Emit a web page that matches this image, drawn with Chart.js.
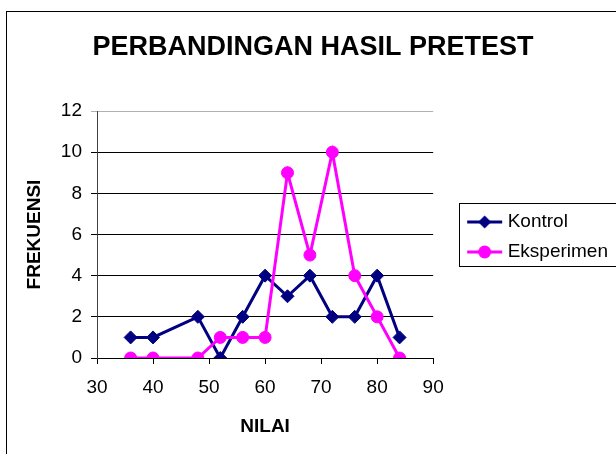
<!DOCTYPE html>
<html>
<head>
<meta charset="utf-8">
<script src="https://cdn.jsdelivr.net/npm/chart.js@4/dist/chart.umd.min.js"></script>
<style>
    body { margin: 0; background: #ffffff; }
    #chart { display: block; }
</style>
</head>
<body>
<canvas id="chart" width="616" height="454"></canvas>
<script>
let chart;

// data
const nilai = [36, 40, 48, 52, 56, 60, 64, 68, 72, 76, 80, 84];
const kontrol = [1, 1, 2, 0, 2, 4, 3, 4, 2, 2, 4, 1];
const eksperimen = [0, 0, 0, 1, 1, 1, 9, 5, 10, 4, 2, 0];
const xTicks = [30, 40, 50, 60, 70, 80, 90];
const yTicks = [0, 2, 4, 6, 8, 10, 12];

const FONT = "'Liberation Sans', Arial, sans-serif";

// the legend may only be a quarter of the width, so the left padding is pulled out
// past the canvas edge and the y axis box made wide to make up for it
const PAD_LEFT = -130;

function toPoints(xs, ys) {
    return xs.map(function (x, i) {
        return {x: x, y: ys[i]};
    });
}

// small line + marker sample for the legend
function legendSample(color, style) {
    const c = document.createElement("canvas");
    c.width = 80;
    c.height = 20;
    const ctx = c.getContext("2d");
    ctx.strokeStyle = color;
    ctx.fillStyle = color;
    ctx.lineWidth = 3;
    ctx.beginPath();
    ctx.moveTo(36, 10);
    ctx.lineTo(71, 10);
    ctx.stroke();
    ctx.beginPath();
    if (style == "diamond") {
        ctx.moveTo(53.5 - 6.5, 10);
        ctx.lineTo(53.5, 10 - 6.5);
        ctx.lineTo(53.5 + 6.5, 10);
        ctx.lineTo(53.5, 10 + 6.5);
        ctx.closePath();
    } else {
        ctx.arc(53.5, 10, 6.5, 0, Math.PI * 2);
    }
    ctx.fill();
    return c;
}

// outer frame and legend frame, title centred on the whole picture
const framePlugin = {
    id: "frames",
    afterLayout: function (c) {
        const t = c.titleBlock;
        if (t) {
            t.left = 0;
            t.right = 626;
            t.width = 626;
        }
    },
    afterDraw: function (c) {
        const ctx = c.ctx;
        ctx.save();
        ctx.strokeStyle = "#000000";
        ctx.lineWidth = 1;
        ctx.strokeRect(6.5, 11.5, 700, 500);
        const hb = c.legend.legendHitBoxes;
        if (hb && hb.length) {
            const top = hb[0].top - 10;
            const bottom = hb[hb.length - 1].top + hb[hb.length - 1].height + 4;
            ctx.strokeRect(Math.round(hb[0].left + 15) + 0.5, Math.round(top) + 0.5, 300, Math.round(bottom - top));
        }
        ctx.restore();
    }
};

window.addEventListener("load", function () {
    const chartCanvas = document.getElementById("chart");
    chart = new Chart(chartCanvas, {
        type: "line",
        data: {
            datasets: [
                {
                    label: "Kontrol",
                    data: toPoints(nilai, kontrol),
                    borderColor: "#000080",
                    backgroundColor: "#000080",
                    borderWidth: 3,
                    pointStyle: "rectRot",
                    pointRadius: 6.5,
                    pointBorderWidth: 1,
                    order: 1,
                    fill: false,
                },
                {
                    label: "Eksperimen",
                    data: toPoints(nilai, eksperimen),
                    borderColor: "#FF00FF",
                    backgroundColor: "#FF00FF",
                    borderWidth: 3,
                    pointStyle: "circle",
                    pointRadius: 6,
                    pointBorderWidth: 1,
                    order: 0,
                    fill: false,
                },
            ],
        },
        options: {
            responsive: false,
            animation: false,
            layout: {
                padding: {left: PAD_LEFT, right: -2, top: 20, bottom: 0},
            },
            plugins: {
                tooltip: {enabled: false},
                title: {
                    display: true,
                    text: "PERBANDINGAN HASIL PRETEST",
                    color: "#000000",
                    font: {family: FONT, size: 27, weight: "bold"},
                    padding: {top: 11, bottom: 47.6},
                },
                legend: {
                    position: "right",
                    labels: {
                        color: "#000000",
                        font: {family: FONT, size: 19},
                        usePointStyle: true,
                        pointStyleWidth: 54,
                        padding: 11,
                        generateLabels: function (c) {
                            return c.data.datasets.map(function (ds, i) {
                                return {
                                    text: ds.label,
                                    fontColor: "#000000",
                                    pointStyle: legendSample(ds.borderColor, i == 0 ? "diamond" : "circle"),
                                    datasetIndex: i,
                                    lineWidth: 0,
                                };
                            });
                        },
                    },
                },
            },
            scales: {
                x: {
                    type: "linear",
                    min: 30,
                    max: 90,
                    afterBuildTicks: function (scale) {
                        scale.ticks = xTicks.map(function (v) { return {value: v}; });
                    },
                    afterFit: function (scale) {
                        scale.height = 96;
                    },
                    grid: {
                        drawOnChartArea: false,
                        drawTicks: true,
                        tickLength: 6,
                        color: "#000000",
                    },
                    border: {color: "#000000", width: 1},
                    ticks: {
                        color: "#000000",
                        font: {family: FONT, size: 19},
                        padding: 12,
                    },
                    title: {
                        display: true,
                        text: "NILAI",
                        color: "#000000",
                        font: {family: FONT, size: 19, weight: "bold"},
                        padding: {top: 0, bottom: 16},
                    },
                },
                y: {
                    min: 0,
                    max: 12,
                    afterBuildTicks: function (scale) {
                        scale.ticks = yTicks.map(function (v) { return {value: v}; });
                    },
                    afterFit: function (scale) {
                        scale.width = 97 - PAD_LEFT;
                    },
                    grid: {
                        color: function (ctx) {
                            return ctx.tick && ctx.tick.value == 12 ? "#b0b0b0" : "#000000";
                        },
                        tickLength: 6,
                    },
                    border: {color: "#404040", width: 1},
                    ticks: {
                        color: "#000000",
                        font: {family: FONT, size: 19},
                        padding: 9,
                    },
                    title: {
                        display: true,
                        text: "FREKUENSI",
                        color: "#000000",
                        font: {family: FONT, size: 19, weight: "bold"},
                        padding: {top: 35 - PAD_LEFT - 11.4, bottom: 0},
                    },
                },
            },
        },
        plugins: [framePlugin],
    });
});
</script>
</body>
</html>
